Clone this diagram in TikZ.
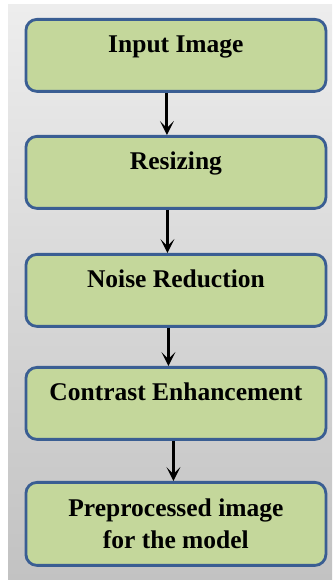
\documentclass[tikz,border=0pt]{standalone}
\usepackage{fontspec}
\setmainfont{Liberation Serif}
\usetikzlibrary{arrows.meta}
\definecolor{boxfill}{HTML}{C4D79B}
\definecolor{boxline}{HTML}{3A5E93}
\definecolor{panTop}{HTML}{EDEDED}
\definecolor{panBot}{HTML}{C2C2C2}
\begin{document}
\begin{tikzpicture}[x=1pt,y=1pt,
  stage/.style={draw=boxline, line width=2.8pt, fill=boxfill,
    rounded corners=11pt, minimum width=300pt, minimum height=72pt,
    inner sep=0pt, anchor=north west,
    font=\fontsize{25.5}{32}\selectfont\bfseries,
    text height=18pt, text depth=24pt},
  flow/.style={-{Stealth[length=14pt,width=14pt,inset=7pt]}, line width=3pt, black}]
  \useasboundingbox (0,0) rectangle (332,580);
  \fill[white] (0,0) rectangle (332,580);
  % shaded panel behind the flow
  \shade[top color=panTop, bottom color=panBot] (8,0) rectangle (332,575);

  \node[stage] (input)  at (24.5,562) {Input Image};
  \node[stage] (resize) at (24.5,445) {Resizing};
  \node[stage] (noise)  at (24.5,327) {Noise Reduction};
  \node[stage] (contr)  at (24.5,214) {Contrast Enhancement};
  \node[stage, minimum height=83pt, text height=, text depth=, align=center]
       (prep) at (24.5,99) {Preprocessed image\\for the model};

  \draw[flow] ([xshift=-9pt]input.south)  -- ([xshift=-9pt]resize.north);
  \draw[flow] ([xshift=-8.5pt]resize.south) -- ([xshift=-8.5pt]noise.north);
  \draw[flow] ([xshift=-7.5pt]noise.south)  -- ([xshift=-7.5pt]contr.north);
  \draw[flow] ([xshift=-2.5pt]contr.south)  -- ([xshift=-2.5pt]prep.north);
\end{tikzpicture}
\end{document}
